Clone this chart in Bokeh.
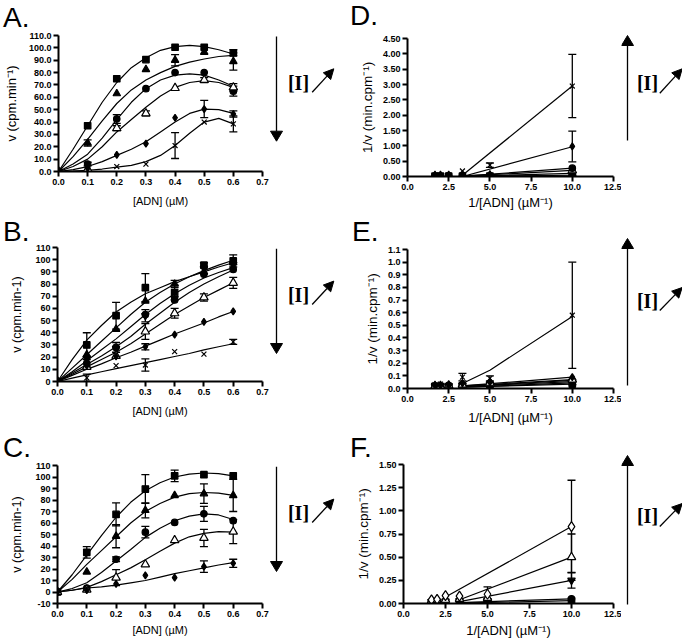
import math
from bokeh.plotting import figure
from bokeh.models import (Range1d, FixedTicker, NumeralTickFormatter, Whisker, TeeHead,
                          ColumnDataSource, Div)
from bokeh.layouts import column, row
from bokeh.embed import file_html
from bokeh.resources import INLINE
from bokeh.core.properties import value

# ---------------- data ----------------
conc = [0, 0.1, 0.2, 0.3, 0.4, 0.5, 0.6]
conc_fit = [0, 0.05, 0.1, 0.15, 0.2, 0.25, 0.3, 0.35, 0.4, 0.45, 0.5, 0.55, 0.6]
recip = [1.667, 2, 2.5, 3.333, 5, 10]

# Panel A (v vs [ADN])
A_sq = [0, 37, 75, 90.5, 100.5, 100.5, 96];    A_sq_err = [0, 0, 0, 0, 0, 0, 2.5]
A_tri = [0, 23, 63, 82.5, 90, 96.5, 89];        A_tri_err = [0, 2.5, 0, 0, 4.5, 0, 7]
A_circ = [0, 6, 42.5, 67, 80, 80, 65];          A_circ_err = [0, 1.5, 3.5, 0, 0, 0, 4]
A_otri = [0, 2, 35, 47, 67.5, 74, 68];          A_otri_err = [0, 0, 2, 2, 0, 2, 3]
A_dia = [0, 3, 13.5, 22.5, 43.5, 50.5, 46.5];   A_dia_err = [0, 0, 0, 0, 0, 7, 2.5]
A_x = [0, 0.5, 4, 6, 21, 40, 38.5];             A_x_err = [0, 0, 0, 0, 10.5, 0, 6.5]
A_fit_sq = [0, 18, 37, 56, 72, 84, 92, 98, 101, 102, 101, 98.5, 95]
A_fit_tri = [0, 12, 26, 41, 55, 66, 74, 80, 85, 88.5, 91, 93, 94]
A_fit_circ = [0, 6, 14, 27, 42, 56, 67, 74, 78, 79, 78, 74, 69]
A_fit_otri = [0, 4, 10, 20, 32, 42, 52, 61, 68, 72, 73.5, 72, 68]
A_fit_dia = [0, 1.5, 4, 8, 13, 18, 24, 32, 40, 47, 50.5, 50, 47]
A_fit_x = [0, 0.3, 1, 2, 3.5, 5, 8, 13, 21, 31, 40, 43, 38.5]

# Panel B
B_sq = [0, 30, 54, 77, 73, 95.5, 99];          B_sq_err = [0, 10, 11, 11.5, 6, 2, 5]
B_tri = [0, 22, 43, 66, 80, 90, 97.5];         B_tri_err = [0, 0, 0, 0, 3, 0, 0]
B_itri = [0, 19, 27, 54, 68, 93, 96];          B_itri_err = [0, 0, 0, 5, 0, 0, 0]
B_circ = [0, 15, 28, 55, 67, 88, 92];          B_circ_err = [0, 3, 4, 0, 0, 0, 0]
B_otri = [0, 12, 21, 41, 56, 69, 81];          B_otri_err = [0, 0, 0, 6.5, 4, 3, 4.5]
B_dia = [0, 13, 20.5, 28.5, 38.5, 49, 57.5];   B_dia_err = [0, 0, 0, 2.5, 0, 0, 0]
B_x = [0, 3, 13, 13.5, 24.5, 22.5, 32.5];      B_x_err = [0, 3, 0, 5, 0, 0, 2]
B_fit_sq = [0, 18, 34, 46, 57, 65, 72, 77, 82, 86, 90, 94, 97.5]
B_fit_tri = [0, 11, 22, 33, 44, 55, 65, 73, 80, 86, 91, 95.5, 99.5]
B_fit_itri = [0, 8, 17, 26, 35, 45, 55, 64, 72, 79, 85, 89.5, 93.5]
B_fit_circ = [0, 7, 14, 21, 28.5, 37, 47, 56, 65, 73, 80, 86, 91.5]
B_fit_otri = [0, 6, 12, 18, 24, 31, 39, 47, 55, 62, 69, 75, 81]
B_fit_dia = [0, 5, 10, 14.5, 19.5, 24, 29, 34, 39, 43.5, 48, 53, 57.5]
B_fit_x = [0, 2.8, 5.5, 8, 10.5, 13, 15.5, 18, 20.5, 23, 26, 28.5, 31]

# Panel C
C_sq = [0, 34.5, 67.5, 89.5, 101, 102, 101];   C_sq_err = [0, 5, 10, 12.5, 5, 0, 0]
C_tri = [0, 17.5, 48.5, 71, 84, 85.5, 84];     C_tri_err = [0, 0, 10, 6.5, 0, 8.5, 14]
C_circ = [0, 3.5, 28.5, 52, 60.5, 68, 62];     C_circ_err = [0, 0, 2, 5, 0, 6.5, 0]
C_otri = [0, 2, 12.5, 24, 45, 47, 52.5];       C_otri_err = [0, 0, 7, 0, 0, 7.5, 10.5]
C_dia = [0, 1.5, 7, 14.5, 12.5, 22, 25];       C_dia_err = [0, 0, 0, 0, 0, 5, 3.5]
C_fit_sq = [0, 15, 32, 49, 65, 78, 88, 95, 100, 102.5, 103.5, 103, 101]
C_fit_tri = [0, 11, 24, 36, 48, 60, 70, 77, 82.5, 85.5, 86.5, 86, 84]
C_fit_circ = [0, 3, 8, 17, 27, 37, 47.5, 55.5, 62, 66, 68, 67, 63]
C_fit_otri = [0, 1.5, 4, 9, 15, 21, 28, 35.5, 42.5, 48, 51, 52.5, 52]
C_fit_dia = [0, 1.5, 3.5, 4.5, 6, 8, 10, 13, 16, 18.5, 21, 23.5, 25.5]

# Panel D (1/v vs 1/[ADN])
D_x = [0.026, 0.025, 0.05, 0.18, 0.37, 2.95];    D_x_err = [0, 0, 0, 0, 0.07, 1.03]
D_dia = [0.022, 0.02, 0.023, 0.045, 0.04, 0.98]; D_dia_err = [0, 0, 0, 0, 0, 0.5]
D_circ = [0.015, 0.013, 0.016, 0.016, 0.025, 0.27]
D_otri = [0.014, 0.014, 0.016, 0.02, 0.03, 0.2]
D_tri = [0.011, 0.011, 0.012, 0.013, 0.017, 0.1]
D_sq = [0.01, 0.01, 0.011, 0.011, 0.013, 0.04]
D_line_xs = [3.333, 10]
D_line_x = [0.04, 2.95]
D_line_dia = [0.0, 0.97]
D_line_circ = [0.01, 0.27]
D_line_otri = [0.01, 0.2]
D_line_tri = [0.005, 0.1]
D_line_sq = [0.005, 0.04]

# Panel E
E_x = [0.03, 0.035, 0.03, 0.09, 0.08, 0.58];      E_x_err = [0.01, 0.005, 0, 0.03, 0.02, 0.42]
E_dia = [0.025, 0.025, 0.03, 0.04, 0.05, 0.09]
E_otri = [0.02, 0.02, 0.025, 0.03, 0.045, 0.07]
E_circ = [0.018, 0.02, 0.022, 0.03, 0.04, 0.065]
E_itri = [0.016, 0.018, 0.02, 0.025, 0.035, 0.055]
E_tri = [0.015, 0.016, 0.018, 0.022, 0.03, 0.045]
E_sq = [0.012, 0.014, 0.016, 0.02, 0.025, 0.035]
E_line_x_xs = [3.333, 5, 10]
E_line_x = [0.04, 0.145, 0.57]
E_line_xs = [3.333, 10]
E_line_dia = [0.02, 0.09]
E_line_otri = [0.02, 0.07]
E_line_circ = [0.015, 0.065]
E_line_itri = [0.015, 0.055]
E_line_tri = [0.01, 0.045]
E_line_sq = [0.01, 0.035]

# Panel F
F_odia = [0.04, 0.045, 0.085, 0.08, 0.1, 0.83];  F_odia_err = [0, 0, 0, 0, 0.08, 0.5]
F_otri = [0.03, 0.035, 0.04, 0.05, 0.06, 0.5];   F_otri_err = [0, 0, 0, 0, 0, 0.25]
F_itri = [0.02, 0.02, 0.025, 0.03, 0.03, 0.25];  F_itri_err = [0, 0, 0, 0, 0, 0.085]
F_circ = [0.015, 0.015, 0.02, 0.02, 0.025, 0.05]
F_sq = [0.01, 0.012, 0.012, 0.015, 0.02, 0.03]
F_line_odia_xs = [2.5, 10]
F_line_odia = [0.07, 0.83]
F_line_xs = [3.333, 10]
F_line_otri = [0.04, 0.5]
F_line_itri = [0.02, 0.25]
F_line_circ = [0.01, 0.05]
F_line_sq = [0.005, 0.03]

# ticks
conc_ticks = [0, 0.1, 0.2, 0.3, 0.4, 0.5, 0.6, 0.7]
recip_ticks = [0, 2.5, 5, 7.5, 10, 12.5]
AB_yticks = [0, 10, 20, 30, 40, 50, 60, 70, 80, 90, 100, 110]
C_yticks = [-10, 0, 10, 20, 30, 40, 50, 60, 70, 80, 90, 100, 110]
D_yticks = [0, 0.5, 1, 1.5, 2, 2.5, 3, 3.5, 4, 4.5]
E_yticks = [0, 0.1, 0.2, 0.3, 0.4, 0.5, 0.6, 0.7, 0.8, 0.9, 1.0, 1.1]
F_yticks = [0, 0.25, 0.5, 0.75, 1.0, 1.25, 1.5]

# ---------------- style ----------------
SANS = "Liberation Sans"
STY = {
    "sq":   dict(marker="square", size=6.5, fill_color="black"),
    "tri":  dict(marker="triangle", size=7.5, fill_color="black"),
    "itri": dict(marker="inverted_triangle", size=7.5, fill_color="black"),
    "circ": dict(marker="circle", size=6.5, fill_color="black"),
    "otri": dict(marker="triangle", size=8.5, fill_color="white"),
    "dia":  dict(marker="diamond", size=7, fill_color="black"),
    "x":    dict(marker="x", size=7, fill_color="black"),
    "odia": dict(marker="diamond", size=10, fill_color="white"),
}


def make_fig(W, H, L, T, FW, FH, xr, yr, xticks, yticks, xfmt, yfmt,
             xlabel, ylabel, xstand, ystand, xl_size, yl_size):
    p = figure(width=W, height=H, x_range=Range1d(*xr), y_range=Range1d(*yr),
               output_backend="svg", toolbar_location=None,
               min_border_left=L, min_border_top=T,
               min_border_right=W - L - FW, min_border_bottom=H - T - FH)
    p.grid.visible = False
    p.outline_line_color = None
    p.background_fill_color = "white"
    p.border_fill_color = "white"
    p.xaxis.ticker = FixedTicker(ticks=xticks)
    p.yaxis.ticker = FixedTicker(ticks=yticks)
    p.xaxis.formatter = NumeralTickFormatter(format=xfmt)
    p.yaxis.formatter = NumeralTickFormatter(format=yfmt)
    for ax in (p.xaxis[0], p.yaxis[0]):
        ax.axis_line_width = 2
        ax.axis_line_color = "black"
        ax.major_tick_line_width = 2
        ax.major_tick_line_color = "black"
        ax.major_tick_out = 5
        ax.major_tick_in = 0
        ax.minor_tick_line_color = None
        ax.major_label_text_font = SANS
        ax.major_label_text_font_style = "bold"
        ax.major_label_text_font_size = "9px"
        ax.major_label_text_color = "black"
        ax.major_label_text_line_height = 1.0
        ax.major_label_standoff = 2
        ax.axis_label_text_font = SANS
        ax.axis_label_text_font_style = "normal"
        ax.axis_label_text_color = "black"
        ax.axis_label_text_line_height = 1.0
    p.xaxis.axis_label = xlabel
    p.yaxis.axis_label = ylabel
    p.xaxis.axis_label_text_font_size = f"{xl_size}px"
    p.yaxis.axis_label_text_font_size = f"{yl_size}px"
    p.xaxis.axis_label_standoff = xstand
    p.yaxis.axis_label_standoff = ystand
    return p


def add_series(p, xs, ys, key, err=None):
    if err is not None:
        b = [x for x, e in zip(xs, err) if e > 0]
        lo = [y - e for y, e in zip(ys, err) if e > 0]
        hi = [y + e for y, e in zip(ys, err) if e > 0]
        if b:
            src = ColumnDataSource(dict(base=b, lower=lo, upper=hi))
            p.add_layout(Whisker(source=src, base="base", lower="lower", upper="upper",
                                 line_width=1.3, line_color="black",
                                 upper_head=TeeHead(size=8, line_width=1.3, line_color="black"),
                                 lower_head=TeeHead(size=8, line_width=1.3, line_color="black")))
    s = STY[key]
    p.scatter(xs, ys, marker=s["marker"], size=s["size"], fill_color=s["fill_color"],
              line_color="black", line_width=1.2)


def blank(w, h):
    d = figure(width=w, height=h, x_range=Range1d(0, w), y_range=Range1d(h, 0),
               output_backend="svg", toolbar_location=None, min_border=0,
               x_axis_location=None, y_axis_location=None)
    d.grid.visible = False
    d.outline_line_color = None
    return d


def letter_div(w, h, text, x, baseline):
    # line box height chosen so that the 28px text baseline falls at `baseline`
    lh = 2 * (baseline - 9.65)
    return Div(text=f'<span style="margin-left:{x}px">{text}</span>', width=w, height=h,
               margin=0,
               styles={"font-family": SANS, "font-size": "28px", "line-height": f"{lh:.1f}px",
                       "color": "black", "overflow": "visible", "white-space": "nowrap"})


def draw_arrow(d, x0, y0, x1, y1, hl, hw):
    dx, dy = x1 - x0, y1 - y0
    n = math.hypot(dx, dy)
    ux, uy = dx / n, dy / n
    bx, by = x1 - ux * hl, y1 - uy * hl
    px, py = -uy, ux
    d.segment(x0=[x0], y0=[y0], x1=[bx], y1=[by], line_width=1.3, line_color="black")
    d.patch([x1, bx + px * hw / 2, bx - px * hw / 2], [y1, by + py * hw / 2, by - py * hw / 2],
            fill_color="black", line_color="black", line_width=1)


def make_deco(w, h, ax, a_top, a_bot, down, lab, d0, d1):
    """Side strip holding the '[I]' indicator (arrows + label), pixel coordinates."""
    d = blank(w, h)
    if down:
        draw_arrow(d, ax, a_top, ax, a_bot, 10, 12)
    else:
        draw_arrow(d, ax, a_bot, ax, a_top, 10, 12)
    d.text(x=[lab[0]], y=[lab[1]], text=["[I]"], text_font=value("Liberation Serif"),
           text_font_style="bold", text_font_size="20px", text_color="black",
           text_align="center", text_baseline="middle")
    draw_arrow(d, d0[0], d0[1], d1[0], d1[1], 10, 10)
    return d


XL = "[ADN] (\u00b5M)"
XR = "1/[ADN] (\u00b5M\u207b\u00b9)"
YR = "1/v (min.cpm\u207b\u00b9)"
WL, WDL, WR, WDR = 269, 74, 278, 61
S1, H1 = 29, 192
S2, H2 = 21, 188
S3, H3 = 29, 181

# ---------------- Panel A ----------------
pA = make_fig(WL, H1, 57, 6, 205, 136, (0, 0.7), (0, 110), conc_ticks, AB_yticks,
              "0.0", "0.0", XL, "v (cpm.min\u207b\u00b9)", 7, 7, 11, 13)
for fy in (A_fit_sq, A_fit_tri, A_fit_circ, A_fit_otri, A_fit_dia, A_fit_x):
    pA.line(conc_fit, fy, line_color="black", line_width=1.2)
add_series(pA, conc, A_sq, "sq", A_sq_err)
add_series(pA, conc, A_tri, "tri", A_tri_err)
add_series(pA, conc, A_circ, "circ", A_circ_err)
add_series(pA, conc, A_otri, "otri", A_otri_err)
add_series(pA, conc, A_dia, "dia", A_dia_err)
add_series(pA, conc, A_x, "x", A_x_err)
sA = letter_div(WL, S1, "A.", 3, 28)
dA = make_deco(WDL, S1 + H1, 7, 36, 140.7, True, (29, 82), (42.7, 91.7), (64.3, 68.3))

# ---------------- Panel B ----------------
pB = make_fig(WL, H2, 57, 5, 205, 134, (0, 0.7), (0, 110), conc_ticks, AB_yticks,
              "0.0", "0", XL, "v (cpm.min-1)", 7, 8, 11, 12.5)
for fy in (B_fit_sq, B_fit_tri, B_fit_itri, B_fit_circ, B_fit_otri, B_fit_dia, B_fit_x):
    pB.line(conc_fit, fy, line_color="black", line_width=1.2)
add_series(pB, conc, B_sq, "sq", B_sq_err)
add_series(pB, conc, B_tri, "tri", B_tri_err)
add_series(pB, conc, B_itri, "itri", B_itri_err)
add_series(pB, conc, B_circ, "circ", B_circ_err)
add_series(pB, conc, B_otri, "otri", B_otri_err)
add_series(pB, conc, B_dia, "dia", B_dia_err)
add_series(pB, conc, B_x, "x", B_x_err)
sB = letter_div(WL, S2, "B.", 3, 21)
dB = make_deco(WDL, S2 + H2, 7, 27.3, 132, True, (29, 73.3), (42.7, 83), (64.3, 59.6))

# ---------------- Panel C ----------------
pC = make_fig(WL, H3, 57, 6, 205, 138, (0, 0.7), (-10, 110), conc_ticks, C_yticks,
              "0.0", "0", XL, "v (cpm.min-1)", 4, 8, 11, 12.5)
for fy in (C_fit_sq, C_fit_tri, C_fit_circ, C_fit_otri, C_fit_dia):
    pC.line(conc_fit, fy, line_color="black", line_width=1.2)
add_series(pC, conc, C_sq, "sq", C_sq_err)
add_series(pC, conc, C_tri, "tri", C_tri_err)
add_series(pC, conc, C_circ, "circ", C_circ_err)
add_series(pC, conc, C_otri, "otri", C_otri_err)
add_series(pC, conc, C_dia, "dia", C_dia_err)
sC = letter_div(WL, S3, "C.", 3, 28)
dC = make_deco(WDL, S3 + H3, 7, 36.3, 141, True, (29, 82.3), (42.7, 92), (64.3, 68.6))

# ---------------- Panel D ----------------
pD = make_fig(WR, H1, 64, 9, 206, 138, (0, 12.5), (0, 4.5), recip_ticks, D_yticks,
              "0.0", "0.00", XR, YR, 2, 5, 13, 13.5)
for ly in (D_line_x, D_line_dia, D_line_circ, D_line_otri, D_line_tri, D_line_sq):
    pD.line(D_line_xs, ly, line_color="black", line_width=1.2)
add_series(pD, recip, D_sq, "sq")
add_series(pD, recip, D_tri, "tri")
add_series(pD, recip, D_otri, "otri")
add_series(pD, recip, D_circ, "circ")
add_series(pD, recip, D_dia, "dia", D_dia_err)
add_series(pD, recip, D_x, "x", D_x_err)
sD = letter_div(WR, S1, "D.", 7, 26)
dD = make_deco(WDR, S1 + H1, 6, 35, 140, False, (26, 82), (38.3, 92.7), (60.7, 68.3))

# ---------------- Panel E ----------------
pE = make_fig(WR, H2, 64, 7, 206, 139, (0, 12.5), (0, 1.1), recip_ticks, E_yticks,
              "0.0", "0.0", XR, YR, 5, 5, 13, 13.5)
pE.line(E_line_x_xs, E_line_x, line_color="black", line_width=1.2)
for ly in (E_line_dia, E_line_otri, E_line_circ, E_line_itri, E_line_tri, E_line_sq):
    pE.line(E_line_xs, ly, line_color="black", line_width=1.2)
add_series(pE, recip, E_sq, "sq")
add_series(pE, recip, E_tri, "tri")
add_series(pE, recip, E_itri, "itri")
add_series(pE, recip, E_circ, "circ")
add_series(pE, recip, E_otri, "otri")
add_series(pE, recip, E_dia, "dia")
add_series(pE, recip, E_x, "x", E_x_err)
sE = letter_div(WR, S2, "E.", 9, 21)
dE = make_deco(WDR, S2 + H2, 6, 17, 164, False, (26, 79), (38.3, 89), (60.7, 66))

# ---------------- Panel F ----------------
pF = make_fig(WR, H3, 60, 5, 210, 139, (0, 12.5), (0, 1.5), recip_ticks, F_yticks,
              "0.0", "0.00", XR, YR, 3, 5, 13, 13.5)
pF.line(F_line_odia_xs, F_line_odia, line_color="black", line_width=1.2)
for ly in (F_line_otri, F_line_itri, F_line_circ, F_line_sq):
    pF.line(F_line_xs, ly, line_color="black", line_width=1.2)
add_series(pF, recip, F_sq, "sq")
add_series(pF, recip, F_circ, "circ")
add_series(pF, recip, F_itri, "itri", F_itri_err)
add_series(pF, recip, F_otri, "otri", F_otri_err)
add_series(pF, recip, F_odia, "odia", F_odia_err)
sF = letter_div(WR, S3, "F.", 7, 28)
dF = make_deco(WDR, S3 + H3, 6, 25, 174, False, (26, 85), (38.3, 96), (60.7, 73))

layout = column(
    row(column(sA, pA), dA, column(sD, pD), dD),
    row(column(sB, pB), dB, column(sE, pE), dE),
    row(column(sC, pC), dC, column(sF, pF), dF),
)
open("out.html", "w").write(file_html(layout, INLINE))
